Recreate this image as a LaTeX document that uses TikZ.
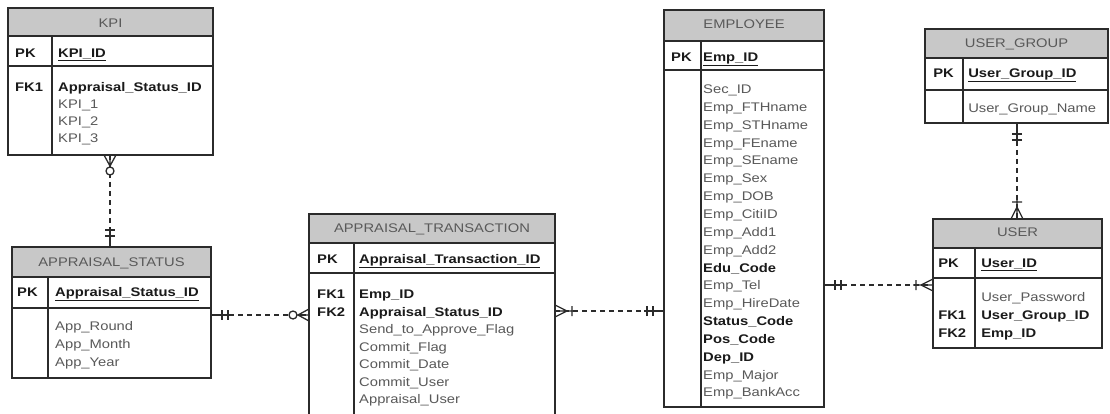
\documentclass[tikz,border=0pt]{standalone}
\usepackage{fontspec}
\setmainfont{Liberation Sans}
\usetikzlibrary{calc}

\definecolor{hdrfill}{HTML}{C8C8C8}
\definecolor{edge}{HTML}{2B2B2B}
\definecolor{soft}{HTML}{595959}
\definecolor{dark}{HTML}{1A1A1A}

\newcommand\txtfont{\fontsize{12.5}{14}\selectfont}

\tikzset{
  tbl/.style={draw=edge, line width=1.6pt, rectangle, inner sep=0pt, outer sep=0pt},
  tsep/.style={draw=edge, line width=1.4pt},
  lbl/.style={inner sep=0pt, anchor=base west, font=\txtfont\bfseries, text=dark, xscale=1.18},
  fld/.style={inner sep=0pt, anchor=base west, font=\txtfont, text=soft, xscale=1.18},
  key/.style={fld, font=\txtfont\bfseries, text=dark},
  ttl/.style={inner sep=0pt, anchor=base, font=\txtfont, text=soft, xscale=1.18},
  rel/.style={draw=edge, line width=1.3pt},
  reldash/.style={rel, dash pattern=on 5pt off 4pt},
}

% table frame: name, left, top, right, bottom, header bottom, key-row bottom, divider x
\newcommand\ertable[8]{%
  \fill[hdrfill] (#2,#3) rectangle (#4,#6);
  \draw[tsep] (#2,#6) -- (#4,#6) (#2,#7) -- (#4,#7) (#8,#6) -- (#8,#5);
  \node[tbl, minimum width={(#4-#2)*1pt}, minimum height={(#5-#3)*1pt}]
    (#1) at ({(#2+#4)/2},{(#3+#5)/2}) {};
}

% relationship end markers, local x axis pointing away from the entity
\newcommand\mkone{%
  \draw[rel] (0,0) -- (20,0) (11,-5) -- (11,5) (17,-5) -- (17,5);}
\newcommand\mkzeromany{%
  \draw[rel] (0,-6) -- (11,0) (0,6) -- (11,0) (0,0) -- (12,0);
  \draw[rel, fill=white] (16,0) circle (4pt);}
\newcommand\mkonemany{%
  \draw[rel] (0,-6) -- (12,0) (0,6) -- (12,0) (0,0) -- (20,0) (17,-5) -- (17,5);}

\begin{document}
\begin{tikzpicture}[x=1pt, y=-1pt]
\useasboundingbox (0,0) rectangle (1110,414);
\clip (0,0) rectangle (1110,414);
\fill[white] (0,0) rectangle (1110,414);

% ---------- KPI ----------
\ertable{kpi}{8}{8}{213}{155}{36}{66}{52}
\node[ttl] (kpi-h) at (110.5,27.5) {KPI};
\node[lbl] (kpi-pk) at (15,57.5) {PK};
\node[key] (kpi-id) at (58,57.5) {\underline{KPI\_ID}};
\node[lbl] (kpi-fk1) at (15,91.5) {FK1};
\node[key] (kpi-f1) at (58,91.5) {Appraisal\_Status\_ID};
\node[fld] (kpi-f2) at (58,108.5) {KPI\_1};
\node[fld] (kpi-f3) at (58,125.5) {KPI\_2};
\node[fld] (kpi-f4) at (58,142.5) {KPI\_3};

% ---------- APPRAISAL_STATUS ----------
\ertable{as}{12}{247}{211}{378}{277}{308}{48}
\node[ttl] (as-h) at (111.5,266.5) {APPRAISAL\_STATUS};
\node[lbl] (as-pk) at (17,296.5) {PK};
\node[key] (as-id) at (55,296.5) {\underline{Appraisal\_Status\_ID}};
\node[fld] (as-f1) at (55,330.5) {App\_Round};
\node[fld] (as-f2) at (55,348.5) {App\_Month};
\node[fld] (as-f3) at (55,366.5) {App\_Year};

% ---------- APPRAISAL_TRANSACTION ----------
\ertable{at}{309}{214}{555}{430}{243}{273}{354}
\node[ttl] (at-h) at (432,232.5) {APPRAISAL\_TRANSACTION};
\node[lbl] (at-pk) at (317,263.5) {PK};
\node[key] (at-id) at (359,263.5) {\underline{Appraisal\_Transaction\_ID}};
\node[lbl] (at-fk1) at (317,298.5) {FK1};
\node[lbl] (at-fk2) at (317,316) {FK2};
\node[key] (at-f1) at (359,298.5) {Emp\_ID};
\node[key] (at-f2) at (359,316) {Appraisal\_Status\_ID};
\node[fld] (at-f3) at (359,333.5) {Send\_to\_Approve\_Flag};
\node[fld] (at-f4) at (359,351) {Commit\_Flag};
\node[fld] (at-f5) at (359,368.5) {Commit\_Date};
\node[fld] (at-f6) at (359,386) {Commit\_User};
\node[fld] (at-f7) at (359,403.5) {Appraisal\_User};

% ---------- EMPLOYEE ----------
\ertable{emp}{664}{10}{824}{407}{41}{70}{701}
\node[ttl] (emp-h) at (744,28.5) {EMPLOYEE};
\node[lbl] (emp-pk) at (671,61.5) {PK};
\node[key] (emp-id) at (703,61.5) {\underline{Emp\_ID}};
\foreach \s/\t [count=\i from 0] in {
  fld/Sec\_ID, fld/Emp\_FTHname, fld/Emp\_STHname, fld/Emp\_FEname,
  fld/Emp\_SEname, fld/Emp\_Sex, fld/Emp\_DOB, fld/Emp\_CitiID,
  fld/Emp\_Add1, fld/Emp\_Add2, key/Edu\_Code, fld/Emp\_Tel,
  fld/Emp\_HireDate, key/Status\_Code, key/Pos\_Code, key/Dep\_ID,
  fld/Emp\_Major, fld/Emp\_BankAcc}
  \node[\s] (emp-f\i) at (703,{93.5+\i*17.85}) {\t};

% ---------- USER_GROUP ----------
\ertable{ug}{925}{29}{1108}{123}{58}{90}{963}
\node[ttl] (ug-h) at (1016.5,47.5) {USER\_GROUP};
\node[lbl] (ug-pk) at (933,77.5) {PK};
\node[key] (ug-id) at (968,77.5) {\underline{User\_Group\_ID}};
\node[fld] (ug-f1) at (968,112.5) {User\_Group\_Name};

% ---------- USER ----------
\ertable{usr}{933}{219}{1102}{348}{248}{278}{975}
\node[ttl] (usr-h) at (1017.5,236.5) {USER};
\node[lbl] (usr-pk) at (938,267.5) {PK};
\node[key] (usr-id) at (981,267.5) {\underline{User\_ID}};
\node[fld] (usr-f1) at (981,301.5) {User\_Password};
\node[lbl] (usr-fk1) at (938,319.5) {FK1};
\node[lbl] (usr-fk2) at (938,337.5) {FK2};
\node[key] (usr-f2) at (981,319.5) {User\_Group\_ID};
\node[key] (usr-f3) at (981,337.5) {Emp\_ID};

% ---------- relationships ----------
\coordinate (r1) at (0,315);
\coordinate (r2) at (0,311);
\coordinate (r3) at (0,285);
\coordinate (c1) at (110,0);
\coordinate (c2) at (1017,0);

% KPI -- APPRAISAL_STATUS
\draw[reldash] (kpi.south -| c1) -- (as.north -| c1);
\begin{scope}[shift={(kpi.south -| c1)}, rotate=-90]\mkzeromany\end{scope}
\begin{scope}[shift={(as.north -| c1)}, rotate=90]\mkone\end{scope}

% APPRAISAL_STATUS -- APPRAISAL_TRANSACTION
\draw[reldash] (as.east |- r1) -- (at.west |- r1);
\begin{scope}[shift={(as.east |- r1)}]\mkone\end{scope}
\begin{scope}[shift={(at.west |- r1)}, rotate=180]\mkzeromany\end{scope}

% APPRAISAL_TRANSACTION -- EMPLOYEE
\draw[reldash] (at.east |- r2) -- (emp.west |- r2);
\begin{scope}[shift={(at.east |- r2)}]\mkonemany\end{scope}
\begin{scope}[shift={(emp.west |- r2)}, rotate=180]\mkone\end{scope}

% EMPLOYEE -- USER
\draw[reldash] (emp.east |- r3) -- (usr.west |- r3);
\begin{scope}[shift={(emp.east |- r3)}]\mkone\end{scope}
\begin{scope}[shift={(usr.west |- r3)}, rotate=180]\mkonemany\end{scope}

% USER_GROUP -- USER
\draw[reldash] (ug.south -| c2) -- (usr.north -| c2);
\begin{scope}[shift={(ug.south -| c2)}, rotate=-90]\mkone\end{scope}
\begin{scope}[shift={(usr.north -| c2)}, rotate=90]\mkonemany\end{scope}

\end{tikzpicture}
\end{document}
